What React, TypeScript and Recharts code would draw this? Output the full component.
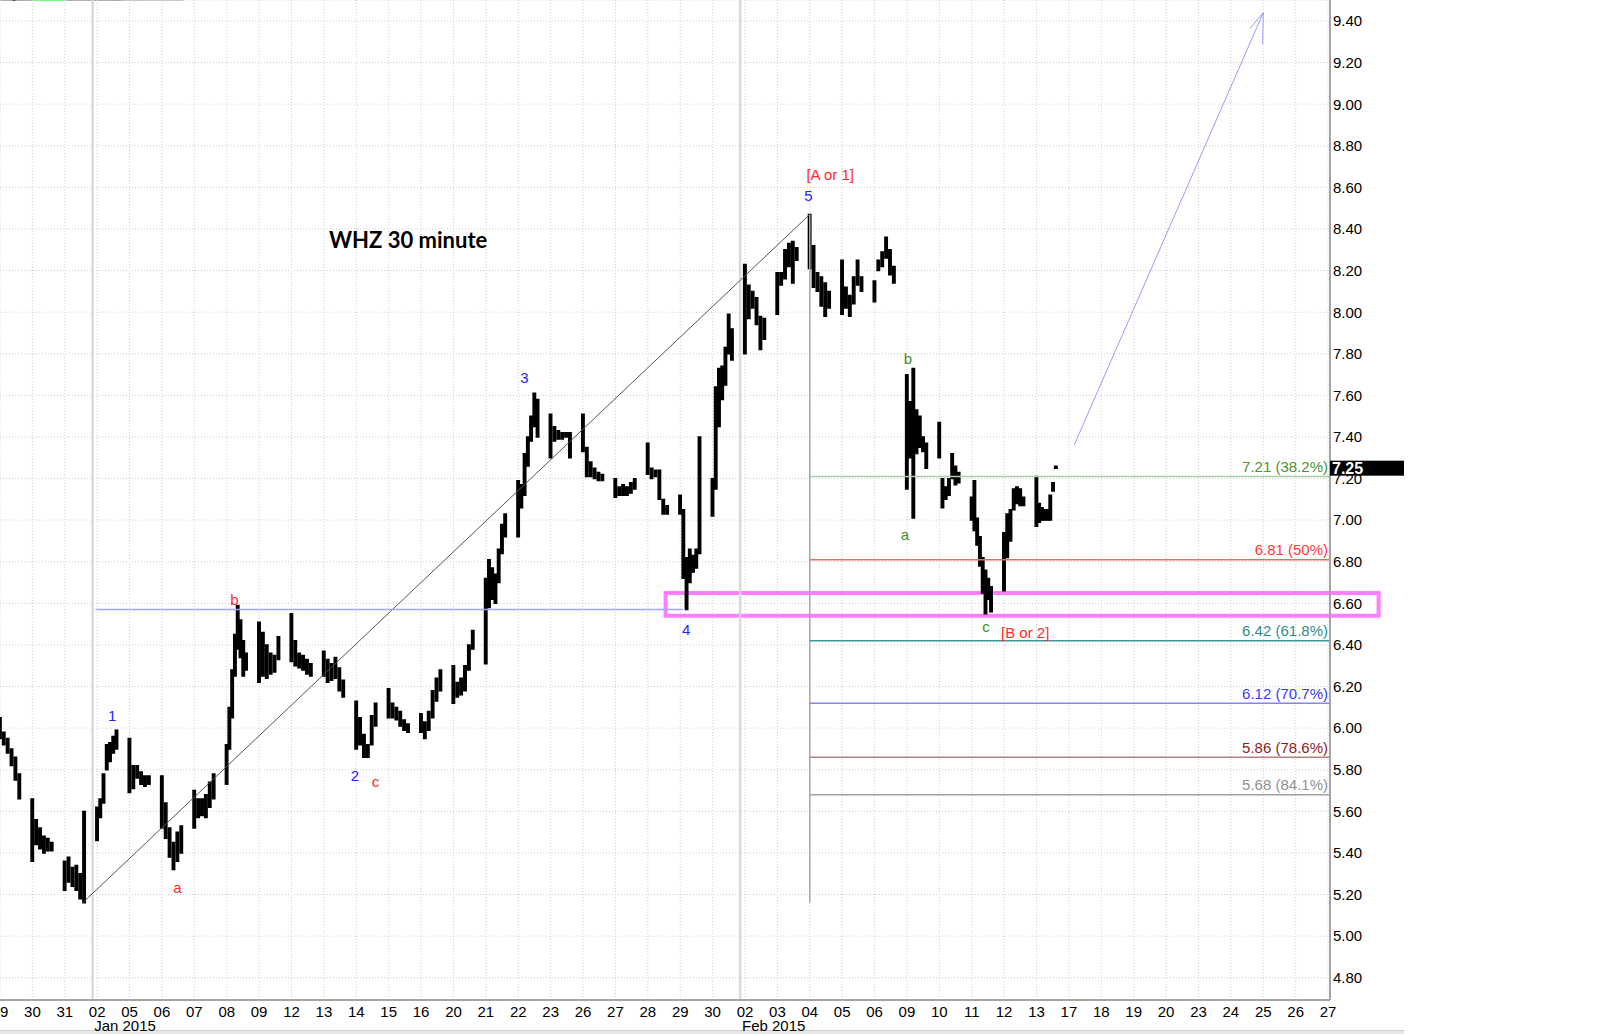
import React from 'react';
import {
  ComposedChart,
  Bar,
  XAxis,
  YAxis,
  CartesianGrid,
  ReferenceLine,
  ReferenceArea,
  ReferenceDot,
} from 'recharts';

// trading-day tick labels (x index = position in this list)
const dayLabels = [
  '29', '30', '31', '02', '05', '06', '07', '08', '09', '12', '13', '14', '15', '16',
  '20', '21', '22', '23', '26', '27', '28', '29', '30', '02', '03', '04', '05', '06',
  '09', '10', '11', '12', '13', '17', '18', '19', '20', '23', '24', '25', '26', '27',
];
const monthLabels = [
  { day: 3, text: 'Jan 2015' },
  { day: 23, text: 'Feb 2015' },
];
const priceTicks = [4.8, 5.0, 5.2, 5.4, 5.6, 5.8, 6.0, 6.2, 6.4, 6.6, 6.8, 7.0, 7.2, 7.4, 7.6, 7.8, 8.0, 8.2, 8.4, 8.6, 8.8, 9.0, 9.2, 9.4];

// 30-minute bars, [high, low], one array per session
const dec29 = [[6.05, 5.95], [5.98, 5.92], [5.95, 5.88], [5.9, 5.82], [5.86, 5.75], [5.78, 5.66]];
const dec30 = [[5.66, 5.36], [5.56, 5.44], [5.52, 5.42], [5.48, 5.4], [5.47, 5.41], [5.45, 5.41]];
const dec31 = [[5.36, 5.22], [5.38, 5.26], [5.33, 5.24], [5.34, 5.22], [5.3, 5.18], [5.6, 5.16]];
const jan02 = [[5.62, 5.46], [5.66, 5.57], [5.78, 5.64], [5.92, 5.8], [5.93, 5.84], [5.96, 5.88], [5.99, 5.9]];
const jan05 = [[5.95, 5.69], [5.82, 5.71], [5.82, 5.76], [5.79, 5.73], [5.77, 5.72], [5.77, 5.73]];
const jan06 = [[5.77, 5.52], [5.64, 5.47], [5.52, 5.38], [5.45, 5.32], [5.5, 5.36], [5.53, 5.4]];
const jan07 = [[5.7, 5.52], [5.66, 5.57], [5.66, 5.58], [5.68, 5.57], [5.74, 5.62], [5.78, 5.66]];
const jan08 = [[5.92, 5.73], [6.1, 5.9], [6.28, 6.05], [6.45, 6.25], [6.59, 6.38], [6.52, 6.34], [6.42, 6.25], [6.36, 6.28]];
const jan09 = [[6.51, 6.22], [6.46, 6.25], [6.4, 6.24], [6.36, 6.26], [6.35, 6.27], [6.44, 6.33]];
const jan12 = [[6.55, 6.32], [6.42, 6.3], [6.36, 6.29], [6.35, 6.28], [6.33, 6.26], [6.31, 6.25]];
const jan13 = [[6.37, 6.25], [6.33, 6.22], [6.31, 6.23], [6.34, 6.24], [6.29, 6.18], [6.23, 6.15]];
const jan14 = [[6.13, 5.9], [6.05, 5.92], [5.97, 5.86], [5.92, 5.86], [6.06, 5.92], [6.12, 6.01]];
const jan15 = [[6.19, 6.05], [6.12, 6.05], [6.1, 6.04], [6.08, 6.01], [6.04, 5.99], [6.02, 5.98]];
const jan16 = [[6.07, 5.98], [6.03, 5.95], [6.08, 5.99], [6.18, 6.05], [6.24, 6.13], [6.28, 6.18]];
const jan20 = [[6.3, 6.12], [6.22, 6.15], [6.24, 6.16], [6.3, 6.18], [6.4, 6.28], [6.47, 6.38]];
const jan21 = [[6.72, 6.31], [6.81, 6.58], [6.77, 6.62], [6.74, 6.6], [6.86, 6.7], [6.98, 6.84], [7.03, 6.92]];
const jan22 = [[7.19, 6.92], [7.17, 7.06], [7.32, 7.12], [7.4, 7.26], [7.5, 7.38], [7.61, 7.45], [7.58, 7.4]];
const jan23 = [[7.51, 7.3], [7.45, 7.38], [7.43, 7.39], [7.42, 7.39], [7.42, 7.4], [7.42, 7.3]];
const jan26 = [[7.51, 7.33], [7.35, 7.21], [7.28, 7.21], [7.25, 7.2], [7.23, 7.19], [7.22, 7.19]];
const jan27 = [[7.2, 7.11], [7.16, 7.12], [7.17, 7.12], [7.16, 7.12], [7.18, 7.13], [7.2, 7.15]];
const jan28 = [[7.37, 7.22], [7.25, 7.2], [7.24, 7.21], [7.24, 7.1], [7.1, 7.03], [7.07, 7.03]];
const jan29 = [[7.12, 7.03], [7.05, 6.72], [6.82, 6.57], [6.86, 6.7], [6.83, 6.75], [6.86, 6.77], [7.4, 6.84]];
const jan30 = [[7.2, 7.02], [7.64, 7.15], [7.73, 7.45], [7.74, 7.58], [7.83, 7.65], [7.99, 7.8], [7.92, 7.77]];
const feb02 = [[8.23, 7.8], [8.13, 7.97], [8.1, 8.02], [8.07, 7.94], [7.98, 7.82], [7.97, 7.87]];
const feb03 = [[8.19, 7.99], [8.19, 8.13], [8.3, 8.16], [8.33, 8.22], [8.34, 8.14], [8.31, 8.25]];
const feb04 = [[8.47, 8.21], [8.32, 8.12], [8.19, 8.1], [8.17, 8.03], [8.14, 7.98], [8.1, 8.02]];
const feb05 = [[8.25, 7.99], [8.12, 8.02], [8.08, 7.98], [8.17, 8.04], [8.25, 8.13], [8.17, 8.1]];
const feb06 = [[8.15, 8.05], [8.25, 8.2], [8.29, 8.22], [8.36, 8.26], [8.3, 8.18], [8.22, 8.14]];
const feb09 = [[7.7, 7.15], [7.57, 7.3], [7.73, 7.01], [7.53, 7.32], [7.5, 7.35], [7.4, 7.33], [7.37, 7.25]];
const feb10 = [[7.47, 7.3], [7.2, 7.06], [7.16, 7.1], [7.2, 7.12], [7.32, 7.2], [7.26, 7.17], [7.23, 7.18]];
const feb11 = [[7.11, 7.0], [7.19, 6.95], [7.01, 6.88], [6.92, 6.78], [6.82, 6.65], [6.76, 6.55], [6.72, 6.62], [6.68, 6.56]];
const feb12 = [[6.94, 6.66], [7.03, 6.82], [7.05, 6.9], [7.15, 7.05], [7.16, 7.08], [7.15, 7.07], [7.11, 7.07]];
const feb13 = [[7.21, 6.97], [7.08, 6.99], [7.06, 7.0], [7.05, 7.0], [7.05, 7.0], [7.12, 7.0], [7.18, 7.14], [7.26, 7.25]];

const sessions = [
  dec29, dec30, dec31, jan02, jan05, jan06, jan07, jan08, jan09, jan12, jan13, jan14, jan15,
  jan16, jan20, jan21, jan22, jan23, jan26, jan27, jan28, jan29, jan30, feb02, feb03, feb04,
  feb05, feb06, feb09, feb10, feb11, feb12, feb13,
];

// Fibonacci retracement of the 5.16 -> 8.47 swing
const fibLow = 5.16;
const fibHigh = 8.47;
const fibLevels = [
  { value: 7.21, text: '7.21 (38.2%)', line: '#a9cda9', color: '#4a9431' },
  { value: 6.81, text: '6.81 (50%)', line: '#ff6464', color: '#ff3a3a' },
  { value: 6.42, text: '6.42 (61.8%)', line: '#3b9797', color: '#2f8c8c' },
  { value: 6.12, text: '6.12 (70.7%)', line: '#8484ff', color: '#3a3aff' },
  { value: 5.86, text: '5.86 (78.6%)', line: '#b48282', color: '#8e1c1c' },
  { value: 5.68, text: '5.68 (84.1%)', line: '#a0a0a0', color: '#929292' },
];
const lastPrice = 7.25;

// wave labels: [day position, price, text, colour]
const waveLabels = [
  { x: 3.46, y: 6.063, text: '1', color: '#2424ff' },
  { x: 5.48, y: 5.232, text: 'a', color: '#ff2a2a' },
  { x: 7.24, y: 6.619, text: 'b', color: '#ff2a2a' },
  { x: 10.96, y: 5.773, text: '2', color: '#2424ff' },
  { x: 11.59, y: 5.743, text: 'c', color: '#ff2a2a' },
  { x: 16.19, y: 7.686, text: '3', color: '#2424ff' },
  { x: 21.18, y: 6.475, text: '4', color: '#2424ff' },
  { x: 24.96, y: 8.563, text: '5', color: '#2424ff' },
  { x: 25.63, y: 8.664, text: '[A or 1]', color: '#ff2a2a' },
  { x: 28.03, y: 7.775, text: 'b', color: '#3a8f2a' },
  { x: 27.94, y: 6.929, text: 'a', color: '#3a8f2a' },
  { x: 30.44, y: 6.491, text: 'c', color: '#3a8f2a' },
  { x: 31.65, y: 6.458, text: '[B or 2]', color: '#ff2a2a' },
];

const X_MIN = 0;
const X_MAX = 41.06;
const Y_MIN = 4.693;
const Y_MAX = 9.501;
const FONT = '"Liberation Sans", Arial, sans-serif';

const barData = sessions.flatMap((bars, day) =>
  bars.map((b, k) => ({
    x: day + (bars.length > 1 ? (k * 0.6) / (bars.length - 1) : 0),
    range: [b[1], b[0]],
  }))
);

const textShape = (text: string, color: string, size: number, anchor: string, dx: number, dy: number, weight: any = 'normal', family: string = FONT) =>
  (p: any) => (
    <text
      x={p.cx + dx}
      y={p.cy + dy}
      fill={color}
      fontSize={size}
      fontFamily={family}
      fontWeight={weight}
      textAnchor={anchor}
      dominantBaseline="central"
    >
      {text}
    </text>
  );

const XTick = (props: any) => {
  const { x, y, payload } = props;
  const idx = Math.round(payload.value);
  const month = monthLabels.find((m) => m.day === idx);
  return (
    <g>
      <text x={x} y={y + 15} textAnchor="middle" fontSize={15} fontFamily={FONT} fill="#000">
        {dayLabels[idx]}
      </text>
      {month ? (
        <text x={x - 3} y={y + 29} textAnchor="start" fontSize={15} fontFamily={FONT} fill="#000">
          {month.text}
        </text>
      ) : null}
    </g>
  );
};

export default function App() {
  return (
    <div style={{ position: 'absolute', left: 0, top: 0, width: 1600, height: 1034, background: '#fff', overflow: 'hidden' }}>
      <div style={{ position: 'absolute', left: 0, top: 0, width: 183, height: 1, background: '#a8a8a8' }} />
      <div style={{ position: 'absolute', left: 123, top: 0, width: 60, height: 1, background: '#c8c8c8' }} />
      <div style={{ position: 'absolute', left: 12, top: 0, width: 4, height: 1, background: '#6a3a3a' }} />
      <div style={{ position: 'absolute', left: 32, top: 0, width: 35, height: 1, background: '#66ff66' }} />
      <div style={{ position: 'absolute', left: 0, top: 1030, width: 1404, height: 4, background: '#e8e8e8', borderTop: '1px solid #d0d0d0', boxSizing: 'border-box' }} />
      <ComposedChart
        width={1600}
        height={1034}
        data={barData}
        margin={{ top: 0, right: 200, bottom: 0, left: 0 }}
        style={{ position: 'absolute', left: 0, top: 0 }}
      >
        <CartesianGrid stroke="#cfcfcf" strokeDasharray="1 2" />
        <XAxis
          type="number"
          dataKey="x"
          domain={[X_MIN, X_MAX]}
          ticks={dayLabels.map((_, i) => i)}
          interval={0}
          allowDataOverflow
          height={34}
          tickLine={false}
          tickSize={0}
          axisLine={{ stroke: '#a4a4a4', strokeWidth: 2 }}
          tick={<XTick />}
        />
        <YAxis
          orientation="right"
          type="number"
          domain={[Y_MIN, Y_MAX]}
          ticks={priceTicks}
          allowDataOverflow
          width={70}
          tickLine={false}
          tickSize={0}
          tickMargin={3}
          axisLine={{ stroke: '#a4a4a4', strokeWidth: 2 }}
          tickFormatter={(v: number) => v.toFixed(2)}
          tick={{ fill: '#000', fontSize: 15, fontFamily: FONT }}
        />

        {/* month separators */}
        <ReferenceLine x={2.86} stroke="#dadada" strokeWidth={2.5} />
        <ReferenceLine x={22.85} stroke="#dadada" strokeWidth={2.5} />

        {/* trend line and support */}
        <ReferenceLine segment={[{ x: 2.55, y: fibLow }, { x: 25, y: fibHigh }]} stroke="#555" strokeWidth={1} />
        <ReferenceLine segment={[{ x: 2.95, y: 6.57 }, { x: 21.08, y: 6.57 }]} stroke="#a3a3ff" strokeWidth={1.5} />

        {/* fib anchor */}
        <ReferenceLine segment={[{ x: 25, y: fibHigh }, { x: 25, y: fibLow }]} stroke="#a8a8a8" strokeWidth={1.5} />
        {fibLevels.map((f) => (
          <ReferenceLine key={'fl' + f.value} segment={[{ x: 25, y: f.value }, { x: X_MAX, y: f.value }]} stroke={f.line} strokeWidth={1.5} />
        ))}

        <Bar dataKey="range" fill="#000" stroke="#000" strokeWidth={1.4} barSize={3} isAnimationActive={false} />

        {fibLevels.map((f) => (
          <ReferenceDot
            key={'ft' + f.value}
            x={X_MAX}
            y={f.value}
            r={0}
            ifOverflow="visible"
            shape={textShape(f.text, f.color, 15, 'end', -2, -10)}
          />
        ))}

        {/* projected arrow */}
        <ReferenceLine segment={[{ x: 33.16, y: 7.36 }, { x: 39.0, y: 9.44 }]} stroke="#9a9aff" strokeWidth={1} />
        <ReferenceLine segment={[{ x: 39.0, y: 9.44 }, { x: 38.59, y: 9.365 }]} stroke="#9a9aff" strokeWidth={1} />
        <ReferenceLine segment={[{ x: 39.0, y: 9.44 }, { x: 38.98, y: 9.288 }]} stroke="#9a9aff" strokeWidth={1} />

        {/* support box */}
        <ReferenceArea
          x1={20.55}
          x2={42.56}
          y1={6.54}
          y2={6.65}
          ifOverflow="visible"
          fill="none"
          fillOpacity={0}
          stroke="#ff7dff"
          strokeWidth={4}
        />

        {waveLabels.map((w, i) => (
          <ReferenceDot
            key={'w' + i}
            x={w.x}
            y={w.y}
            r={0}
            ifOverflow="visible"
            shape={textShape(w.text, w.color, 15, 'middle', 0, 0)}
          />
        ))}

        <ReferenceDot
          x={12.6}
          y={8.35}
          r={0}
          ifOverflow="visible"
          shape={textShape('WHZ 30 minute', '#000', 22, 'middle', 0, 0, 'bold', 'Lato, "Open Sans", sans-serif')}
        />

        <ReferenceDot
          x={X_MAX}
          y={lastPrice}
          r={0}
          ifOverflow="visible"
          shape={(p: any) => (
            <g>
              <rect x={p.cx} y={p.cy - 7.5} width={74} height={15} fill="#000" />
              <text x={p.cx + 2} y={p.cy} dominantBaseline="central" fill="#fff" fontSize={16} fontWeight="bold" fontFamily={FONT}>
                {lastPrice.toFixed(2)}
              </text>
            </g>
          )}
        />
      </ComposedChart>
    </div>
  );
}
